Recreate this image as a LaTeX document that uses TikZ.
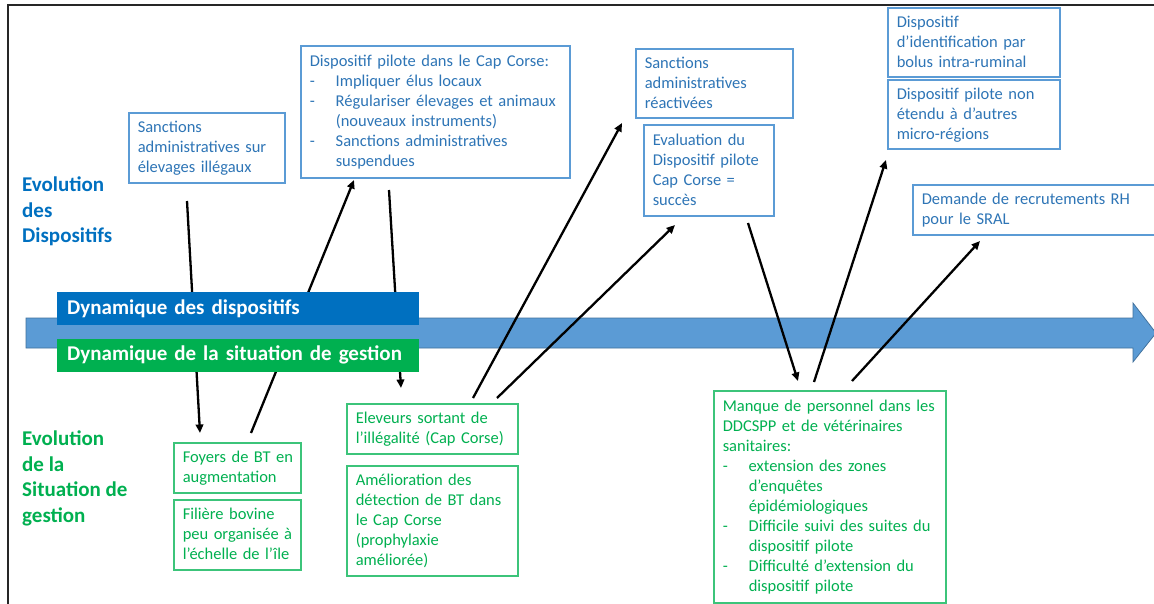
\documentclass[tikz,border=0pt]{standalone}
\usepackage{fontspec}
\setmainfont{Carlito}
\usetikzlibrary{arrows.meta}
\definecolor{dblue}{HTML}{0070C0}
\definecolor{lblue}{HTML}{5B9BD5}
\definecolor{lbord}{HTML}{41719C}
\definecolor{bxblue}{HTML}{5B9BD5}
\definecolor{txblue}{HTML}{2E75B6}
\definecolor{dgreen}{HTML}{00B050}
\definecolor{bxgreen}{HTML}{3CC47A}
\newcommand\mylines[1]{\begin{tabular}{@{}l@{}}\rule{0pt}{16pt}#1\end{tabular}}
\newcommand\labellines[1]{\begin{tabular}{@{}l@{}}#1\end{tabular}}
\newcommand\itm{\makebox[26pt][l]{-}}
\newcommand\ind{\hspace*{26pt}}
\tikzset{
  box/.style={draw, line width=1.5pt, anchor=north west, inner xsep=9pt, inner ysep=0pt,
    align=left, font=\fontsize{16.5}{20}\selectfont},
  bbox/.style={box, draw=bxblue, text=txblue},
  gbox/.style={box, draw=bxgreen, text=dgreen},
  conn/.style={line width=2.3pt, -{Triangle[length=8.5pt,width=7.5pt]}},
  barnode/.style={anchor=north west, minimum width=362pt, minimum height=33pt, text width=342pt,
    inner xsep=10pt, inner ysep=0pt, align=left, text=white, font=\bfseries\fontsize{21}{25}\selectfont},
  lab/.style={anchor=north west, inner sep=0pt, font=\bfseries\fontsize{21}{25.5}\selectfont}
}
\begin{document}
\begin{tikzpicture}[x=1pt,y=-1pt]
\useasboundingbox (0,0) rectangle (1154,603);
\fill[white] (0,0) rectangle (1154,603);
% frame
\draw[line width=2pt, black!85] (7.5,5) rectangle (1175,625);
% connector end points
\coordinate (c1a) at (187,201); \coordinate (c1b) at (200,433);
\coordinate (c2a) at (251,433); \coordinate (c2b) at (354,180);
\coordinate (c3a) at (389,190); \coordinate (c3b) at (401,388);
\coordinate (c4a) at (473,398); \coordinate (c4b) at (622,123);
\coordinate (c5a) at (497,398); \coordinate (c5b) at (675,225);
\coordinate (c6a) at (748,223); \coordinate (c6b) at (798,381);
\coordinate (c7a) at (814,382); \coordinate (c7b) at (886,160);
\coordinate (c8a) at (852,381); \coordinate (c8b) at (980,241);
% connectors hidden behind the timeline
\draw[conn] (c1a) -- (c1b);
\draw[conn] (c2a) -- (c2b);
\draw[conn] (c3a) -- (c3b);
% timeline arrow
\fill[lblue, draw=lbord, line width=0.75pt] (26,318) -- (1133,318) -- (1133,303) -- (1156,333)
  -- (1133,362) -- (1133,348) -- (26,348) -- cycle;
% connectors over the timeline
\draw[conn] (c4a) -- (c4b);
\draw[conn] (c5a) -- (c5b);
\draw[conn] (c6a) -- (c6b);
\draw[conn] (c7a) -- (c7b);
\draw[conn] (c8a) -- (c8b);
% bars
\node[barnode, fill=dblue] (dynd) at (57,292) {Dynamique des dispositifs};
\node[barnode, fill=dgreen] (dyng) at (57,338.5) {Dynamique de la situation de gestion};
% side labels
\node[lab, text=dblue] (evd) at (22,173.8) {\labellines{Evolution\\des\\Dispositifs}};
\node[lab, text=dgreen] (evg) at (22,427.6) {\labellines{Evolution\\de la\\Situation de\\gestion}};
% blue boxes
\node[bbox, minimum width=156pt, minimum height=70pt, text width=138pt] (sanc) at (128,112)
  {\mylines{Sanctions\\administratives sur\\élevages illégaux}};
\node[bbox, minimum width=269pt, minimum height=132pt, text width=251pt] (pilote) at (300,45)
  {\mylines{Dispositif pilote dans le Cap Corse:\\\itm Impliquer élus locaux\\\itm Régulariser élevages et animaux\\\ind (nouveaux instruments)\\\itm Sanctions administratives\\\ind suspendues}};
\node[bbox, minimum width=157pt, minimum height=69pt, text width=139pt] (react) at (635,48)
  {\mylines{Sanctions\\administratives\\réactivées}};
\node[bbox, minimum width=130pt, minimum height=91pt, text width=112pt] (evalu) at (643,124)
  {\mylines{Evaluation du\\Dispositif pilote\\Cap Corse =\\succès}};
\node[bbox, minimum width=172pt, minimum height=69pt, text width=154pt] (bolus) at (887,7)
  {\mylines{Dispositif\\d’identification par\\bolus intra-ruminal}};
\node[bbox, minimum width=172pt, minimum height=69pt, text width=154pt] (nonet) at (887,79)
  {\mylines{Dispositif pilote non\\étendu à d’autres\\micro-régions}};
\node[bbox, minimum width=262pt, minimum height=50pt, text width=244pt] (srh) at (912,184)
  {\mylines{Demande de recrutements RH\\pour le SRAL}};
% green boxes
\node[gbox, minimum width=127pt, minimum height=50pt, text width=109pt] (foyers) at (173,442)
  {\mylines{Foyers de BT en\\augmentation}};
\node[gbox, minimum width=127pt, minimum height=70pt, text width=109pt] (filiere) at (173,499)
  {\mylines{Filière bovine\\peu organisée à\\l’échelle de l’île}};
\node[gbox, minimum width=171pt, minimum height=50pt, text width=153pt] (elev) at (346,403)
  {\mylines{Eleveurs sortant de\\l’illégalité (Cap Corse)}};
\node[gbox, minimum width=171pt, minimum height=110pt, text width=153pt] (amel) at (346,465)
  {\mylines{Amélioration des\\détection de BT dans\\le Cap Corse\\(prophylaxie\\améliorée)}};
\node[gbox, minimum width=232pt, minimum height=212pt, text width=214pt] (manque) at (713,390)
  {\mylines{Manque de personnel dans les\\DDCSPP et de vétérinaires\\sanitaires:\\\itm extension des zones\\\ind d’enquêtes\\\ind épidémiologiques\\\itm Difficile suivi des suites du\\\ind dispositif pilote\\\itm Difficulté d’extension du\\\ind dispositif pilote}};
\end{tikzpicture}
\end{document}
